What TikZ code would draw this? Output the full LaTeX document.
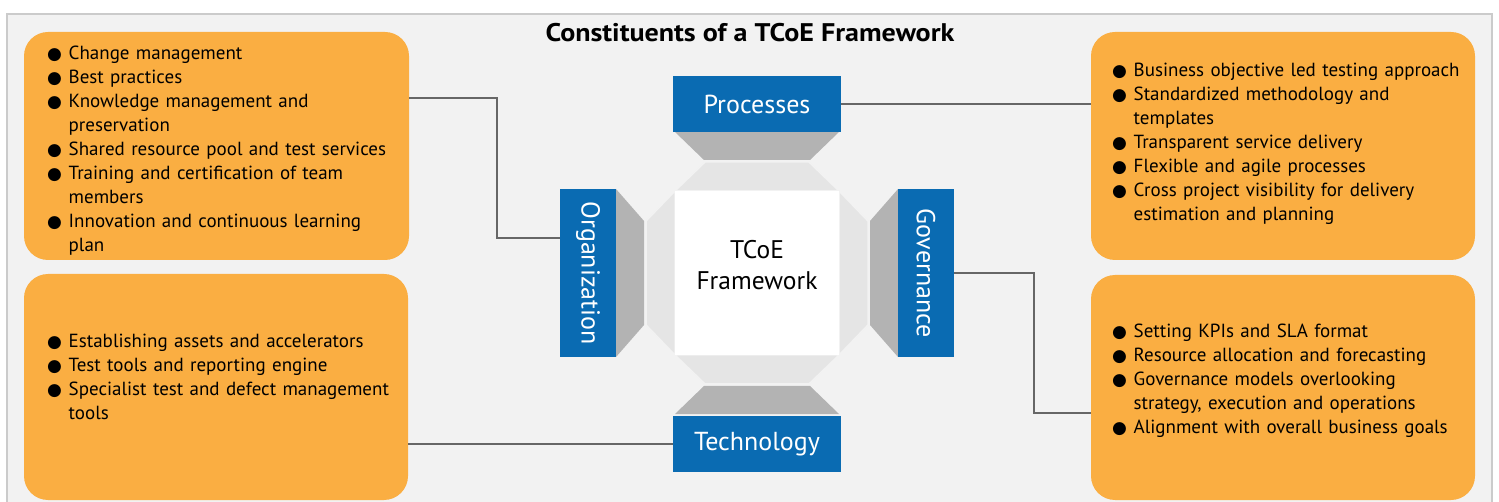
\documentclass[tikz,border=0pt]{standalone}
\usepackage{fontspec}
\setmainfont{PT Sans}
\newfontfamily\titlefont[FakeStretch=1.1]{PT Sans}
\newfontfamily\dotfont{DejaVu Sans}
\usepackage{graphicx}
\usetikzlibrary{positioning}

\definecolor{frameback}{HTML}{F2F2F2}
\definecolor{frameline}{HTML}{CBCBCB}
\definecolor{boxorange}{HTML}{FAAE42}
\definecolor{pillarblue}{HTML}{0A6BB2}
\definecolor{wedgegray}{HTML}{B3B3B3}
\definecolor{octgray}{HTML}{E5E5E5}
\definecolor{linkgray}{HTML}{676767}

% 箇条書きの黒丸
\newcommand{\bdot}{{\dotfont\fontsize{17}{17}\selectfont ●}}
\newcommand{\bitem}[1]{\hangindent=21.5pt\hangafter=1\noindent\makebox[21.5pt][l]{\bdot}#1\par}

\begin{document}
\begin{tikzpicture}[
    x=1pt, y=-1pt,
    orangebox/.style={fill=boxorange, rounded corners=24pt, inner sep=0pt},
    points/.style={anchor=base west, inner sep=0pt, text width=400pt, align=left,
      font=\fontsize{19}{24}\selectfont},
    pillar/.style={fill=pillarblue, text=white, inner sep=0pt,
      font=\fontsize{26}{30}\selectfont},
    conn/.style={draw=linkgray, line width=2.5pt}
  ]
    % 背景と枠
    \useasboundingbox (0,0) rectangle (1499,502);
    \fill[white] (0,0) rectangle (1499,502);
    \draw[frameline, fill=frameback, line width=2pt] (7,14) rectangle (1492,530);
    \node[anchor=base, inner sep=0pt, font=\titlefont\bfseries\fontsize{25.5}{30}\selectfont] (title) at (750,42)
      {Constituents of a TCoE Framework};

    % 四隅のオレンジの箱
    \node[orangebox, minimum width=385pt, minimum height=228pt] (orgbox) at (216.5,146) {};
    \node[orangebox, minimum width=384pt, minimum height=226pt] (techbox) at (216,387) {};
    \node[orangebox, minimum width=384pt, minimum height=228pt] (procbox) at (1283,146) {};
    \node[orangebox, minimum width=384pt, minimum height=225pt] (govbox) at (1283,387.5) {};

    % 箱の中の項目
    \node[points] (orglist) at (47,59.5) {%
      \bitem{Change management}
      \bitem{Best practices}
      \bitem{Knowledge management and\newline preservation}
      \bitem{Shared resource pool and test services}
      \bitem{Training and certification of team\newline members}
      \bitem{Innovation and continuous learning\newline plan}};
    \node[points] (techlist) at (47,347.5) {%
      \bitem{Establishing assets and accelerators}
      \bitem{Test tools and reporting engine}
      \bitem{Specialist test and defect management\newline tools}};
    \node[points] (proclist) at (1112,76.5) {%
      \bitem{Business objective led testing approach}
      \bitem{Standardized methodology and\newline templates}
      \bitem{Transparent service delivery}
      \bitem{Flexible and agile processes}
      \bitem{Cross project visibility for delivery\newline estimation and planning}};
    \node[points] (govlist) at (1112,337.5) {%
      \bitem{Setting KPIs and SLA format}
      \bitem{Resource allocation and forecasting}
      \bitem{Governance models overlooking\newline strategy, execution and operations}
      \bitem{Alignment with overall business goals}};

    % 中央の八角形
    \begin{scope}[shift={(757,273)}]
      \path[fill=octgray, draw=frameback, line width=1.5pt]
        (-52,-111) -- (52,-111) -- (82,-82) -- (-82,-82) -- cycle
        (-52,111) -- (52,111) -- (82,82) -- (-82,82) -- cycle
        (-111,-52) -- (-111,52) -- (-82,82) -- (-82,-82) -- cycle
        (111,-52) -- (111,52) -- (82,82) -- (82,-82) -- cycle;
      % 柱の影
      \fill[wedgegray] (-82,-141) -- (82,-141) -- (53,-113) -- (-53,-113) -- cycle;
      \fill[wedgegray] (-82,141) -- (82,141) -- (53,113) -- (-53,113) -- cycle;
      \fill[wedgegray] (-141,-84) -- (-141,84) -- (-113,52) -- (-113,-52) -- cycle;
      \fill[wedgegray] (141,-84) -- (141,84) -- (113,52) -- (113,-52) -- cycle;
      % 四つの柱
      \node[pillar, minimum width=168pt, minimum height=56pt] (proc) at (0,-169) {Processes};
      \node[pillar, minimum width=168pt, minimum height=56pt] (tech) at (0,171) {Technology};
      \node[pillar, minimum width=56pt, minimum height=168pt] (org) at (-169,0)
        {\rotatebox{-90}{Organization}};
      \node[pillar, minimum width=56pt, minimum height=168pt] (gov) at (169,0)
        {\rotatebox{-90}{Governance}};
      % 中心
      \node[fill=white, minimum size=164pt, inner sep=0pt, align=center, text depth=17pt,
        font=\fontsize{25.5}{31}\selectfont] (core) at (0,0) {TCoE\\Framework};
    \end{scope}

    % 接続線
    \draw[conn] (orgbox.east |- 0,98) -- ++(88,0) |- (org.west |- 0,238);
    \draw[conn] (proc.east) -- (proc.east -| procbox.west);
    \draw[conn] (gov.east) -- ++(80,0) |- (govbox.west |- 0,413);
    \draw[conn] (techbox.east |- tech) -- (tech.west);
  \end{tikzpicture}
\end{document}
